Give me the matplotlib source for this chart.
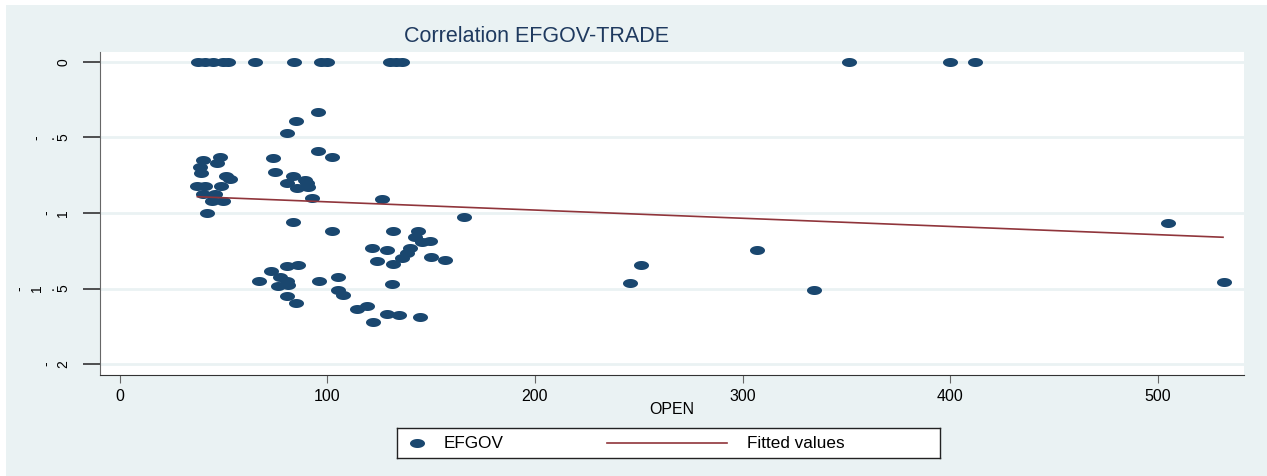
"""Scatter of EFGOV against OPEN with a fitted line (Stata s2color look)."""

import matplotlib
matplotlib.use("Agg")
import matplotlib.pyplot as plt
import matplotlib.transforms as mtransforms
import numpy as np
from matplotlib.path import Path

# data
open_vals = [
    38, 41, 45, 50, 52, 65, 84, 97, 100, 130, 133, 136, 351, 400, 412,
    95.7, 85.0, 80.5, 95.7, 102.2, 74.0, 40.3, 48.4, 46.8, 38.8,
    39.2, 74.9, 51.3, 53.2, 83.7, 89.3, 90.1, 80.5, 37.2, 41.2,
    48.7, 85.3, 90.9, 40.3, 46.0, 92.5, 44.4, 50.0, 126.2, 42.0,
    83.4, 165.9, 102.2, 131.8, 143.9, 142.3, 145.5, 149.5, 121.4, 128.6,
    139.9, 138.3, 135.9, 131.8, 123.8, 150.0, 156.7, 86.1, 80.5, 72.8,
    67.3, 77.3, 80.5, 76.5, 81.3, 96.2, 105.2, 131.3, 80.5, 85.0,
    105.3, 107.5, 114.2, 119.0, 122.2, 128.6, 134.7, 144.7,
    245.7, 251.2, 307.1, 334.4, 504.8, 531.8,
]
efgov = [
    0, 0, 0, 0, 0, 0, 0, 0, 0, 0, 0, 0, 0, 0, 0,
    -0.333, -0.392, -0.474, -0.591, -0.632, -0.639, -0.650, -0.632, -0.668, -0.694,
    -0.734, -0.731, -0.756, -0.776, -0.756, -0.782, -0.800, -0.800, -0.820, -0.820,
    -0.820, -0.837, -0.831, -0.875, -0.875, -0.903, -0.919, -0.919, -0.908, -0.999,
    -1.058, -1.025, -1.118, -1.118, -1.118, -1.161, -1.190, -1.188, -1.234, -1.245,
    -1.234, -1.267, -1.300, -1.338, -1.320, -1.290, -1.314, -1.347, -1.351, -1.382,
    -1.448, -1.426, -1.448, -1.483, -1.479, -1.448, -1.424, -1.470, -1.550, -1.594,
    -1.510, -1.545, -1.638, -1.614, -1.722, -1.671, -1.677, -1.690,
    -1.462, -1.347, -1.245, -1.512, -1.067, -1.455,
]
fit_x = [37.5, 531.3]
fit_y = [-0.893, -1.161]

x_ticks = [0, 100, 200, 300, 400, 500]
y_ticks = [0, -0.5, -1, -1.5, -2]
y_tick_labels = ["0", "-.5", "-1", "-1.5", "-2"]

W, H = 1267, 476
NAVY = "#1a476f"
MAROON = "#90353b"
BG = "#eaf2f3"

plt.rcParams["font.family"] = ["Liberation Sans", "DejaVu Sans"]

fig = plt.figure(figsize=(W / 100, H / 100), dpi=100, facecolor="white")
fig.patches.append(plt.Rectangle((6 / W, 0), 1, 1 - 5 / H, transform=fig.transFigure,
                                  facecolor=BG, edgecolor="none", zorder=-10))

ax = fig.add_axes([100 / W, 1 - 374.7 / H, 1144 / W, 323 / H])
ax.set_facecolor("white")

# Stata draws circles stretched into wide ovals
t = np.linspace(0, 2 * np.pi, 60)
oval = Path(np.column_stack([np.cos(t), 0.6 * np.sin(t)]), closed=True)

ax.scatter(open_vals, efgov, marker=oval, s=117, color=NAVY, linewidths=0, zorder=3)
ax.plot(fit_x, fit_y, color=MAROON, lw=1.2, zorder=4)

ax.set_xlim(-9.4, 541.4)
ax.set_ylim(-2.070, 0.066)
ax.set_xticks(x_ticks)
ax.set_yticks(y_ticks)
ax.set_yticklabels([])
ax.grid(axis="y", color=BG, lw=2, zorder=0)
ax.set_axisbelow(True)

for side in ("top", "right"):
    ax.spines[side].set_visible(False)
ax.spines["left"].set_color("#666666")
ax.spines["bottom"].set_color("#333333")
ax.tick_params(axis="y", length=12, color="#333333", width=1.2)
ax.tick_params(axis="x", length=6, color="#666666", labelsize=11.5, pad=4)
ax.set_xlabel("OPEN", fontsize=11.5, labelpad=-1)

# vertical y labels, glyph by glyph as in the exported picture
blend = mtransforms.blended_transform_factory(fig.transFigure, ax.transData)
for val, lab in zip(y_ticks, y_tick_labels):
    right = 72
    for ch in reversed(lab):
        adv = 10 if ch == "." else 17
        ax.text((right - adv / 2) / W, val, ch, transform=blend, rotation=90,
                ha="center", va="center", fontsize=10, color="black", clip_on=False)
        right -= adv

fig.text(537 / W, 1 - 36 / H, "Correlation EFGOV-TRADE", ha="center", va="center",
         fontsize=15.5, color="#1f3a5f")

# legend box
lax = fig.add_axes([397 / W, 1 - 458 / H, 543 / W, 30 / H])
lax.set_xlim(0, 543)
lax.set_ylim(0, 30)
lax.set_xticks([])
lax.set_yticks([])
for sp in lax.spines.values():
    sp.set_color("#222222")
    sp.set_linewidth(1)
lax.scatter([20], [15], marker=oval, s=117, color=NAVY, linewidths=0)
lax.text(47, 15, "EFGOV", va="center", fontsize=12.3)
lax.plot([210, 330], [15, 15], color=MAROON, lw=1.2)
lax.text(350, 15, "Fitted values", va="center", fontsize=12.3)

fig.savefig("out.png", dpi=100, facecolor=fig.get_facecolor())
